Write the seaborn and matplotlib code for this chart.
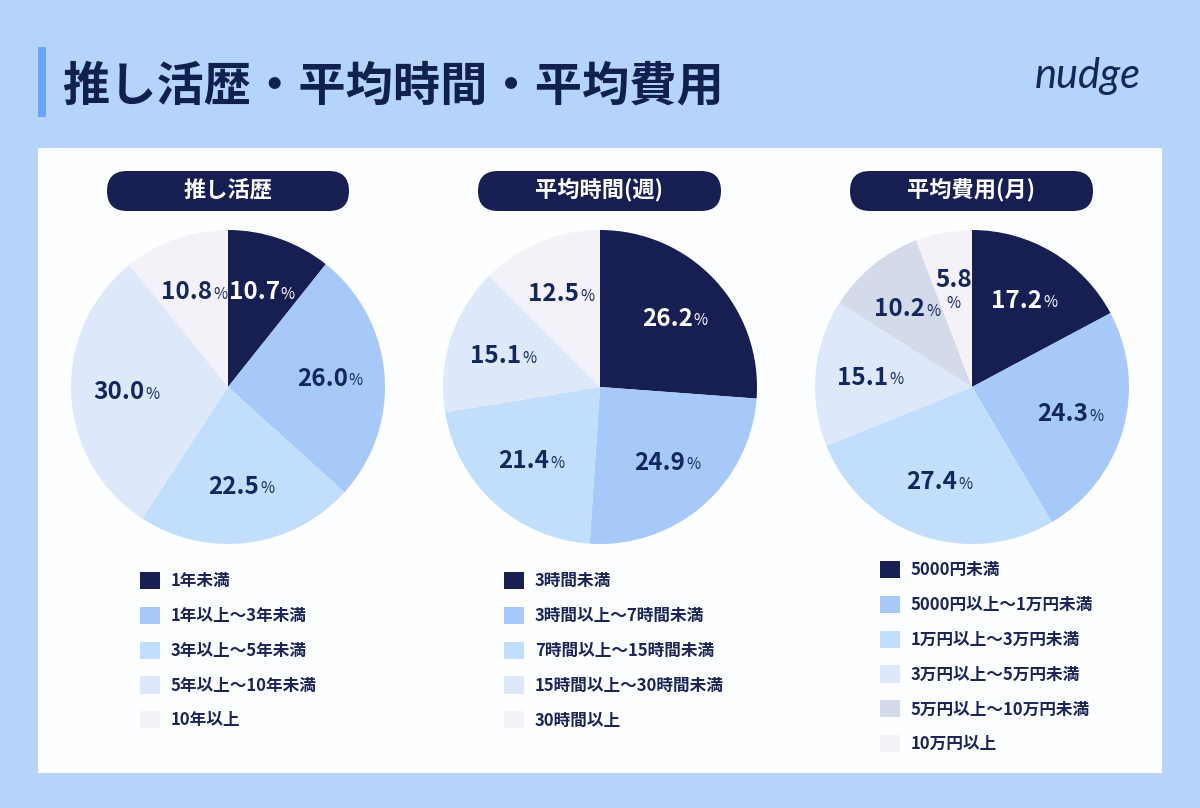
import numpy as np
import matplotlib
matplotlib.use("Agg")
import matplotlib.pyplot as plt
from matplotlib.patches import FancyBboxPatch, Rectangle
import seaborn as sns

# --- data ---
history_title = "推し活歴"
history_labels = ["1年未満", "1年以上〜3年未満", "3年以上〜5年未満", "5年以上〜10年未満", "10年以上"]
history_values = [10.7, 26.0, 22.5, 30.0, 10.8]

time_title = "平均時間(週)"
time_labels = ["3時間未満", "3時間以上〜7時間未満", "7時間以上〜15時間未満",
               "15時間以上〜30時間未満", "30時間以上"]
time_values = [26.2, 24.9, 21.4, 15.1, 12.5]

cost_title = "平均費用(月)"
cost_labels = ["5000円未満", "5000円以上〜1万円未満", "1万円以上〜3万円未満",
               "3万円以上〜5万円未満", "5万円以上〜10万円未満", "10万円以上"]
cost_values = [17.2, 24.3, 27.4, 15.1, 10.2, 5.8]

main_title = "推し活歴・平均時間・平均費用"

# --- style ---
NAVY = "#161e52"
TEXT = "#1b2657"
BG = "#b4d4fc"
colors5 = ["#161e52", "#a7c9f9", "#c1defd", "#dde8fb", "#f4f2f8"]
colors6 = ["#161e52", "#a7c9f9", "#c1defd", "#dde8fb", "#d3dbea", "#f4f2f8"]

sns.set_theme(style="white")
plt.rcParams["font.family"] = ["Noto Sans CJK JP", "DejaVu Sans"]

W, H = 1200, 808
fig = plt.figure(figsize=(W / 100, H / 100), dpi=100)
fig.patch.set_facecolor(BG)

# background axis in pixel coordinates
bg = fig.add_axes([0, 0, 1, 1], zorder=0)
bg.set_xlim(0, W)
bg.set_ylim(H, 0)
bg.axis("off")

bg.add_patch(Rectangle((38, 148), 1124, 625, facecolor="#fdfeff", edgecolor="none"))
bg.add_patch(Rectangle((38, 47), 8, 70, facecolor="#6aa5f5", edgecolor="none"))
bg.text(62, 86, main_title, fontsize=34, fontweight="bold", color="#10214f",
        ha="left", va="center")
bg.text(1088, 76, "nudge", fontsize=30, style="italic", color="#14265a",
        ha="center", va="center", family=["Lato", "DejaVu Sans"])

panels = [
    (history_title, history_labels, history_values, colors5, 228, (107, 349), (140, 572)),
    (time_title, time_labels, time_values, colors5, 600, (478, 721), (504, 572)),
    (cost_title, cost_labels, cost_values, colors6, 972, (850, 1093), (880, 561)),
]

R = 157
CY = 387

for title, labels, values, cols, cx, (px0, px1), (lx, ly) in panels:
    # header pill
    bg.add_patch(FancyBboxPatch((px0, 171), px1 - px0, 40,
                                boxstyle="round,pad=0,rounding_size=20",
                                mutation_aspect=1, facecolor=NAVY, edgecolor="none"))
    bg.text((px0 + px1) / 2, 190, title, fontsize=16, fontweight="bold",
            color="white", ha="center", va="center")

    ax = fig.add_axes([(cx - R) / W, 1 - (CY + R) / H, 2 * R / W, 2 * R / H], zorder=1)
    wedges, _ = ax.pie(values, colors=cols, startangle=90, counterclock=False,
                       wedgeprops=dict(linewidth=0))
    ax.set_xlim(-1, 1)
    ax.set_ylim(-1, 1)
    ax.set_aspect("equal")

    for i, (w, v) in enumerate(zip(wedges, values)):
        ang = np.deg2rad((w.theta1 + w.theta2) / 2)
        x, y = 0.65 * np.cos(ang), 0.64 * np.sin(ang)
        c = "white" if i == 0 else "#13275e"
        if v < 7:
            ax.annotate(f"{v:.1f}", (x, y), xytext=(0, 8), textcoords="offset pixels",
                        ha="center", va="center", fontsize=17.5, fontweight="bold", color=c)
            ax.annotate("%", (x, y), xytext=(0, -15), textcoords="offset pixels",
                        ha="center", va="center", fontsize=11, color=c)
        else:
            ax.annotate(f"{v:.1f}", (x, y), xytext=(18, 0), textcoords="offset pixels",
                        ha="right", va="center", fontsize=17.5, fontweight="bold", color=c)
            ax.annotate("%", (x, y), xytext=(19, -2), textcoords="offset pixels",
                        ha="left", va="center", fontsize=11, color=c)

    leg = ax.legend(wedges, labels, loc="upper left",
                    bbox_to_anchor=(lx / W, 1 - ly / H), bbox_transform=fig.transFigure,
                    frameon=False, borderpad=0, borderaxespad=0,
                    handlelength=1.2, handleheight=1.2, handletextpad=0.65,
                    labelspacing=1.0, prop=dict(size=12, weight="bold"))
    for t in leg.get_texts():
        t.set_color(TEXT)

fig.savefig("out.png", dpi=100, facecolor=BG)
